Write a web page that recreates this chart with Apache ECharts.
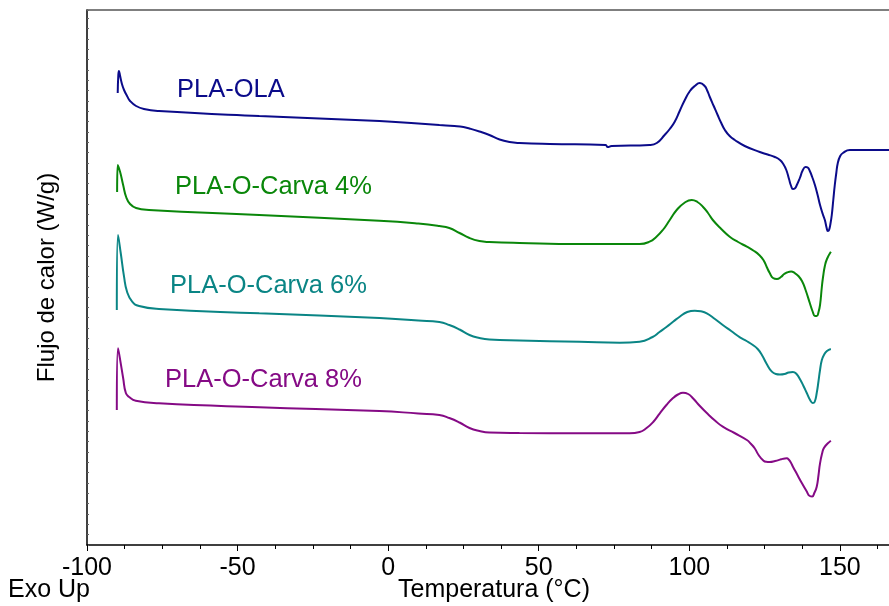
<!DOCTYPE html>
<html>
<head>
<meta charset="utf-8">
<script src="https://cdn.jsdelivr.net/npm/echarts@6/dist/echarts.min.js"></script>
<style>
  html, body { margin: 0; padding: 0; background: #fff; }
  #chart { width: 889px; height: 606px; }
</style>
</head>
<body>
<div id="chart"></div>
<script>
// [temperatura °C, flujo de calor (u.a.)]
const plaOla = [
  [-89.8, 4.52], [-89.6, 4.70], [-89.4, 4.74], [-89.0, 4.69], [-88.4, 4.61], [-87.7, 4.55],
  [-86.7, 4.49], [-85.7, 4.44], [-83.7, 4.39], [-81.1, 4.36], [-76.1, 4.34], [-42.8, 4.29],
  [-2.9, 4.24], [10.0, 4.215], [17.0, 4.20], [22.0, 4.19], [25.0, 4.18], [27.0, 4.165],
  [30.3, 4.135], [33.6, 4.10], [37.0, 4.055], [40.3, 4.03], [43.6, 4.02], [53.6, 4.01],
  [72.2, 4.00], [72.9, 3.98], [74.2, 3.99], [86.8, 4.00], [89.2, 4.02], [91.8, 4.10],
  [93.5, 4.16], [95.1, 4.23], [96.8, 4.34], [98.5, 4.45], [100.2, 4.54], [101.8, 4.59],
  [103.5, 4.62], [105.1, 4.59], [106.0, 4.54], [106.8, 4.48], [108.1, 4.39], [109.4, 4.30],
  [110.6, 4.22], [111.8, 4.15], [113.4, 4.09], [115.1, 4.05], [118.4, 3.99], [123.4, 3.93],
  [126.0, 3.905], [128.4, 3.88], [130.1, 3.85], [131.2, 3.81], [132.2, 3.75], [133.1, 3.66],
  [133.8, 3.59], [134.4, 3.56], [135.0, 3.565], [135.7, 3.60], [136.7, 3.67], [137.7, 3.75],
  [138.6, 3.78], [139.3, 3.775], [140.0, 3.74], [140.8, 3.68], [141.7, 3.60], [142.6, 3.50],
  [143.4, 3.40], [144.3, 3.31], [145.0, 3.25], [145.6, 3.17], [146.0, 3.14], [146.4, 3.15],
  [146.9, 3.22], [147.3, 3.30], [147.8, 3.45], [148.3, 3.60], [148.8, 3.72], [149.3, 3.82],
  [150.1, 3.89], [151.0, 3.92], [153.3, 3.95], [160.0, 3.95], [166.3, 3.95]
];
const carva4 = [
  [-90.0, 3.53], [-89.8, 3.80], [-89.0, 3.73], [-88.0, 3.60], [-87.0, 3.48], [-85.7, 3.41],
  [-83.7, 3.37], [-79.4, 3.35], [-42.8, 3.30], [-2.9, 3.243], [10.0, 3.215], [17.0, 3.19],
  [20.3, 3.17], [23.7, 3.12], [27.0, 3.07], [30.3, 3.04], [33.6, 3.03], [43.6, 3.02],
  [63.6, 3.01], [83.5, 3.01], [86.8, 3.033], [89.0, 3.08], [91.2, 3.15], [93.5, 3.25],
  [95.8, 3.35], [98.3, 3.42], [100.8, 3.45], [102.7, 3.43], [104.5, 3.383], [106.2, 3.32],
  [107.8, 3.25], [110.6, 3.16], [113.4, 3.083], [116.2, 3.03], [119.1, 2.983], [121.5, 2.94],
  [123.2, 2.90], [124.6, 2.85], [125.7, 2.78], [126.7, 2.72], [127.8, 2.67], [129.1, 2.66],
  [130.4, 2.68], [131.5, 2.71], [132.4, 2.725], [133.8, 2.735], [135.0, 2.72], [136.2, 2.69],
  [137.4, 2.64], [138.6, 2.55], [140.0, 2.42], [141.0, 2.33], [141.7, 2.29], [142.3, 2.29],
  [142.9, 2.33], [143.4, 2.40], [144.0, 2.58], [144.4, 2.68], [145.0, 2.79], [145.7, 2.86],
  [147.0, 2.933]
];
const carva6 = [
  [-90.1, 2.35], [-89.7, 3.10], [-88.8, 2.92], [-87.7, 2.683], [-86.7, 2.533], [-85.0, 2.433],
  [-82.7, 2.39], [-76.1, 2.36], [-42.8, 2.317], [-2.9, 2.27], [10.0, 2.245], [17.0, 2.23],
  [20.3, 2.20], [23.7, 2.155], [27.0, 2.10], [30.3, 2.07], [33.6, 2.055], [43.6, 2.045],
  [63.6, 2.033], [76.9, 2.023], [83.5, 2.033], [87.8, 2.08], [90.1, 2.13], [92.5, 2.183],
  [94.7, 2.235], [96.8, 2.283], [99.3, 2.33], [101.8, 2.343], [103.8, 2.337], [105.8, 2.317],
  [108.5, 2.26], [111.1, 2.20], [113.9, 2.14], [116.8, 2.077], [119.0, 2.04], [121.1, 2.00],
  [122.7, 1.96], [124.1, 1.90], [125.7, 1.81], [127.4, 1.733], [128.7, 1.71], [130.1, 1.705],
  [131.6, 1.71], [133.0, 1.725], [134.4, 1.73], [135.6, 1.71], [136.7, 1.66], [137.9, 1.59],
  [139.0, 1.52], [140.1, 1.45], [141.0, 1.42], [141.6, 1.43], [142.3, 1.52], [142.9, 1.64],
  [143.4, 1.75], [144.0, 1.85], [144.7, 1.90], [145.7, 1.94], [147.0, 1.96]
];
const carva8 = [
  [-90.1, 1.35], [-89.7, 1.967], [-88.8, 1.817], [-88.0, 1.67], [-87.1, 1.52], [-86.0, 1.48],
  [-83.8, 1.443], [-76.1, 1.417], [-42.8, 1.377], [-2.9, 1.34], [10.0, 1.315], [17.0, 1.30],
  [20.3, 1.27], [23.7, 1.225], [27.0, 1.17], [30.3, 1.14], [33.6, 1.125], [43.6, 1.12],
  [63.6, 1.117], [80.2, 1.117], [83.5, 1.13], [85.7, 1.167], [88.0, 1.23], [90.2, 1.317],
  [92.4, 1.40], [94.5, 1.467], [96.2, 1.505], [97.9, 1.523], [99.6, 1.51], [101.2, 1.467],
  [103.5, 1.39], [105.9, 1.317], [108.5, 1.245], [111.1, 1.183], [115.0, 1.12], [119.1, 1.05],
  [120.5, 1.01], [121.7, 0.967], [123.0, 0.90], [124.4, 0.85], [125.5, 0.832], [126.7, 0.83],
  [128.5, 0.84], [130.5, 0.857], [131.7, 0.866], [132.4, 0.867], [133.0, 0.855], [133.7, 0.825],
  [134.4, 0.783], [135.9, 0.70], [137.4, 0.617], [138.9, 0.54], [140.0, 0.49], [140.8, 0.485],
  [141.5, 0.52], [142.3, 0.583], [142.9, 0.70], [143.4, 0.817], [144.2, 0.93], [144.6, 0.965],
  [145.3, 0.995], [146.1, 1.02], [147.0, 1.043]
];

const seriesNames = ['PLA-OLA', 'PLA-O-Carva 4%', 'PLA-O-Carva 6%', 'PLA-O-Carva 8%'];
const seriesColors = ['#0b0b8a', '#0a870a', '#0a8585', '#850a85'];

const font = '"Liberation Sans", Arial, sans-serif';
let myChart = echarts.init(document.getElementById('chart'));

function curve(name, data, color) {
  return {
    name: name,
    type: 'line',
    data: data,
    symbol: 'none',
    smooth: 0.5,
    lineStyle: { color: color, width: 2 }
  };
}

function label(text, left, top, color) {
  return {
    type: 'text',
    left: left,
    top: top,
    style: { text: text, fill: color, font: '25.5px ' + font }
  };
}

let option = {
  backgroundColor: '#fff',
  animation: false,
  grid: { left: 87, right: 0, top: 10, bottom: 61 },
  xAxis: [{
    type: 'value',
    min: -100,
    max: 166.3,
    interval: 50,
    axisLine: { show: true, onZero: false, lineStyle: { color: '#000', width: 1.5 } },
    axisTick: { show: true, length: 6, lineStyle: { color: '#000' } },
    minorTick: { show: true, splitNumber: 4, length: 4, lineStyle: { color: '#000' } },
    splitLine: { show: false },
    axisLabel: { color: '#000', fontSize: 25, fontFamily: font, margin: 11, showMaxLabel: false }
  }, {
    type: 'value',
    position: 'top',
    min: -100,
    max: 166.3,
    axisLine: { show: true, onZero: false, lineStyle: { color: '#555', width: 1.5 } },
    axisTick: { show: false },
    axisLabel: { show: false },
    splitLine: { show: false }
  }],
  yAxis: {
    type: 'value',
    min: 0,
    max: 5.35,
    interval: 0.1033,
    name: 'Flujo de calor (W/g)',
    nameLocation: 'middle',
    nameGap: 28,
    nameTextStyle: { color: '#000', fontSize: 24, fontFamily: font },
    axisLine: { show: true, onZero: false, lineStyle: { color: '#000', width: 1.5 } },
    axisTick: { show: true, inside: true, length: 2, lineStyle: { color: '#666' } },
    axisLabel: { show: false },
    splitLine: { show: false }
  },
  graphic: [
    label(seriesNames[0], 177, 77, seriesColors[0]),
    label(seriesNames[1], 175, 174, seriesColors[1]),
    label(seriesNames[2], 170, 273, seriesColors[2]),
    label(seriesNames[3], 165, 367, seriesColors[3]),
    { type: 'text', left: 8, top: 578, style: { text: 'Exo Up', fill: '#000', font: '25px ' + font } },
    { type: 'text', left: 398, top: 578, style: { text: 'Temperatura (°C)', fill: '#000', font: '25px ' + font } }
  ],
  series: [
    curve(seriesNames[0], plaOla, seriesColors[0]),
    curve(seriesNames[1], carva4, seriesColors[1]),
    curve(seriesNames[2], carva6, seriesColors[2]),
    curve(seriesNames[3], carva8, seriesColors[3])
  ]
};
myChart.setOption(option);
</script>
</body>
</html>
